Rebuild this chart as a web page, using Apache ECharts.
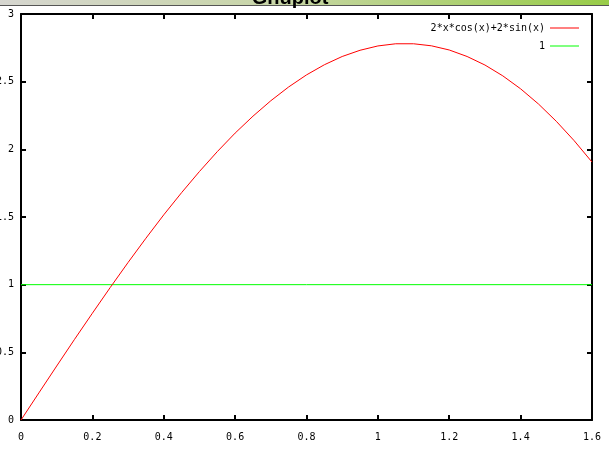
<!DOCTYPE html>
<html>
<head>
<meta charset="utf-8">
<script src="https://cdn.jsdelivr.net/npm/echarts@6/dist/echarts.min.js"></script>
<style>html,body{margin:0;padding:0;background:#fff}#c{width:609px;height:450px}</style>
</head>
<body>
<div id="c"></div>
<script>
var xTicks = [0, 0.2, 0.4, 0.6, 0.8, 1, 1.2, 1.4, 1.6];
var yTicks = [0, 0.5, 1, 1.5, 2, 2.5, 3];
var curveX = [0, 0.05, 0.1, 0.15, 0.2, 0.25, 0.3, 0.35, 0.4, 0.45, 0.5, 0.55, 0.6, 0.65, 0.7, 0.75, 0.8, 0.85, 0.9, 0.95, 1.0, 1.05, 1.1, 1.15, 1.2, 1.25, 1.3, 1.35, 1.4, 1.45, 1.5, 1.55, 1.6];
var curveY = [0, 0.200, 0.399, 0.596, 0.789, 0.979, 1.164, 1.343, 1.516, 1.680, 1.836, 1.983, 2.120, 2.245, 2.359, 2.461, 2.550, 2.625, 2.686, 2.732, 2.764, 2.780, 2.780, 2.765, 2.734, 2.686, 2.623, 2.543, 2.447, 2.335, 2.207, 2.064, 1.906];
var constX = [0, 1.6];
var constY = [1, 1];
var seriesNames = ['2*x*cos(x)+2*sin(x)', '1'];

var chart = echarts.init(document.getElementById('c'), null, {renderer: 'canvas'});
var mono = 'DejaVu Sans Mono';
function zip(a, b) { return a.map(function (v, i) { return [v, b[i]]; }); }
var axisLine = {show: true, onZero: false, lineStyle: {color: '#000', width: 2}};
var tick = {show: true, inside: true, length: 5, lineStyle: {color: '#000', width: 2}};
var legendText = {fontFamily: mono, fontSize: 10, color: '#000'};
chart.setOption({
  animation: false,
  backgroundColor: '#fff',
  grid: {left: 21, right: 17, top: 14, bottom: 30, containLabel: false, outerBoundsMode: 'none'},
  legend: [
    {data: [seriesNames[0]], right: 30, top: 23, padding: 0, align: 'right', icon: 'rect', itemWidth: 29, itemHeight: 1,
     textStyle: legendText},
    {data: [seriesNames[1]], right: 30, top: 41, padding: 0, align: 'right', icon: 'rect', itemWidth: 29, itemHeight: 1,
     textStyle: legendText}
  ],
  xAxis: [
    {type: 'value', min: xTicks[0], max: xTicks[xTicks.length - 1], interval: 0.2, position: 'bottom',
     axisLine: axisLine, axisTick: tick, splitLine: {show: false},
     axisLabel: {fontFamily: mono, fontSize: 10, color: '#000', margin: 12}},
    {type: 'value', min: xTicks[0], max: xTicks[xTicks.length - 1], interval: 0.2, position: 'top',
     axisLine: axisLine, axisTick: tick, splitLine: {show: false}, axisLabel: {show: false}}
  ],
  yAxis: [
    {type: 'value', min: yTicks[0], max: yTicks[yTicks.length - 1], interval: 0.5, position: 'left',
     axisLine: axisLine, axisTick: tick, splitLine: {show: false},
     axisLabel: {fontFamily: mono, fontSize: 10, color: '#000', margin: 7}},
    {type: 'value', min: yTicks[0], max: yTicks[yTicks.length - 1], interval: 0.5, position: 'right',
     axisLine: axisLine, axisTick: tick, splitLine: {show: false}, axisLabel: {show: false}}
  ],
  series: [
    {name: seriesNames[0], type: 'line', data: zip(curveX, curveY), showSymbol: false, symbol: 'none',
     lineStyle: {color: '#ff0000', width: 1}, itemStyle: {color: '#ff0000'}, z: 3},
    {name: seriesNames[1], type: 'line', data: zip(constX, constY), showSymbol: false, symbol: 'none',
     lineStyle: {color: '#00ff00', width: 1}, itemStyle: {color: '#00ff00'}, z: 2}
  ],
  graphic: [
    {type: 'rect', left: 0, top: 0, z: 10, shape: {width: 609, height: 5},
     style: {fill: new echarts.graphic.LinearGradient(0, 0, 1, 0, [
       {offset: 0, color: '#d6d6d0'}, {offset: 0.45, color: '#c8d6a8'}, {offset: 1, color: '#98cc48'}])}},
    {type: 'rect', left: 0, top: 5, z: 10, shape: {width: 609, height: 1}, style: {fill: '#555'}},
    {type: 'text', x: 290, y: -12, z: 11,
     style: {text: 'Gnuplot', fill: '#000', font: 'bold 20px "Liberation Sans", Arial, sans-serif', textAlign: 'center', textVerticalAlign: 'top'}}
  ]
});
</script>
</body>
</html>
